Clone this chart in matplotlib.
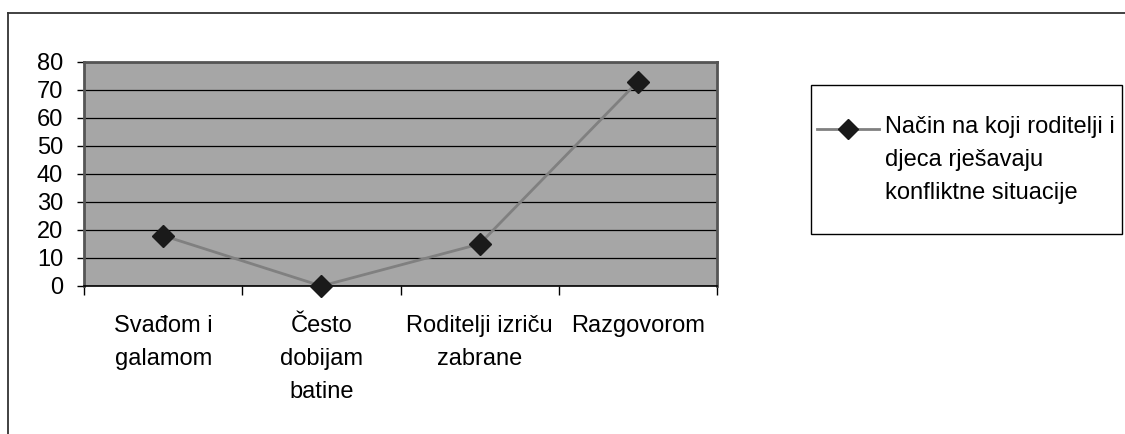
import matplotlib
matplotlib.use('Agg')
import matplotlib.pyplot as plt
from matplotlib.lines import Line2D
from matplotlib.patches import Rectangle
import numpy as np

plt.rcParams['font.family'] = ['Liberation Sans', 'DejaVu Sans']

# Data
categories = ['Svađom i\ngalamom', 'Često\ndobijam\nbatine',
              'Roditelji izriču\nzabrane', 'Razgovorom']
values = [18, 0, 15, 73]
y_ticks = [0, 10, 20, 30, 40, 50, 60, 70, 80]
series_label = 'Način na koji roditelji i\ndjeca rješavaju\nkonfliktne situacije'

FS = 17
W, H = 1125, 434
fig = plt.figure(figsize=(W / 100, H / 100), dpi=100)
fig.patch.set_facecolor('white')

# plot area
ax = fig.add_axes([84 / W, 1 - 286 / H, (717 - 84) / W, (286 - 62) / H])
ax.set_facecolor('#a6a6a6')

x = np.arange(len(categories))
ax.plot(x, values, color='#808080', lw=2, marker='D', markersize=11,
        markerfacecolor='#1a1a1a', markeredgecolor='#1a1a1a', zorder=3,
        clip_on=False)

ax.set_xlim(-0.5, len(categories) - 0.5)
ax.set_ylim(0, 80)
ax.set_yticks(y_ticks)
ax.set_yticklabels([str(v) for v in y_ticks], fontsize=FS)
ax.yaxis.grid(True, color='black', lw=0.9)
ax.set_axisbelow(True)

# category labels at centers, tick marks at the category boundaries
ax.set_xticks(x)
ax.set_xticklabels(categories, fontsize=FS, linespacing=1.65, va='top')
ax.tick_params(axis='x', which='major', length=0, pad=21)
ax.set_xticks(np.arange(len(categories) + 1) - 0.5, minor=True)
ax.tick_params(axis='x', which='minor', length=6.5, width=1, color='black',
               direction='out')
ax.tick_params(axis='y', length=5, width=1, color='black', direction='out',
               pad=10)

for side in ['top', 'right', 'left']:
    ax.spines[side].set_color('#555555')
    ax.spines[side].set_linewidth(2)
ax.spines['bottom'].set_color('black')
ax.spines['bottom'].set_linewidth(1.2)

# legend box drawn by hand so the handle sits on the first text line
lx0, ly0, lx1, ly1 = 811, 85, 1122, 234
fig.patches.append(Rectangle((lx0 / W, 1 - ly1 / H), (lx1 - lx0) / W,
                             (ly1 - ly0) / H, transform=fig.transFigure,
                             facecolor='white', edgecolor='black', lw=1))
fig.lines.append(Line2D([817 / W, 879 / W], [1 - 129 / H, 1 - 129 / H],
                        transform=fig.transFigure, color='#808080', lw=2))
fig.lines.append(Line2D([848 / W], [1 - 129 / H], transform=fig.transFigure,
                        marker='D', markersize=10, color='#1a1a1a', lw=0))
fig.text(885 / W, 1 - 116 / H, series_label, fontsize=FS, va='top',
         ha='left', linespacing=1.65)

# outer chart border (left and top only visible)
fig.lines.append(Line2D([8 / W, 8 / W], [0, 1 - 13 / H],
                        transform=fig.transFigure, color='#333333', lw=1.3))
fig.lines.append(Line2D([8 / W, 1], [1 - 13 / H, 1 - 13 / H],
                        transform=fig.transFigure, color='#333333', lw=1.3))

fig.savefig('out.png', dpi=100)
